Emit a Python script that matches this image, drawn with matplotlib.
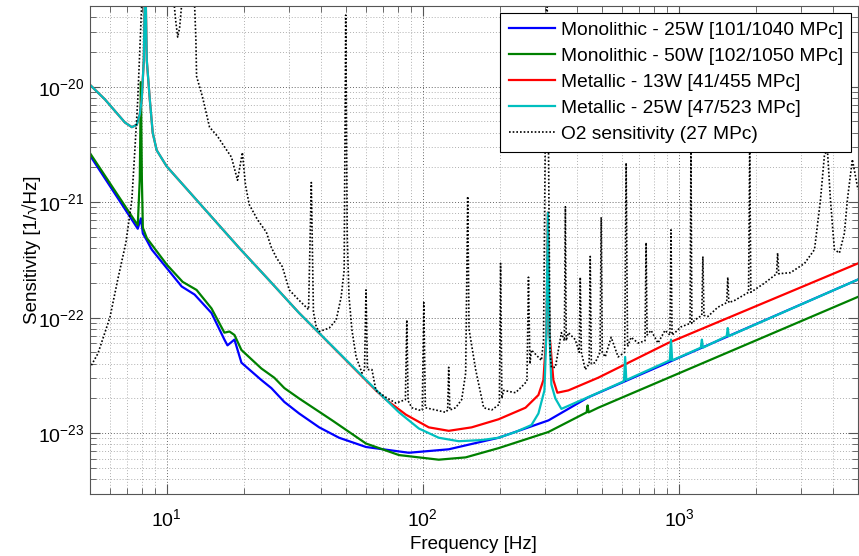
import matplotlib
matplotlib.use('Agg')
import matplotlib.pyplot as plt
import numpy as np

plt.rcParams['font.family'] = ['Liberation Sans', 'DejaVu Sans']
plt.rcParams['mathtext.fontset'] = 'custom'
plt.rcParams['mathtext.rm'] = 'Liberation Sans'
plt.rcParams['mathtext.it'] = 'Liberation Sans:italic'
plt.rcParams['mathtext.bf'] = 'Liberation Sans:bold'
plt.rcParams['axes.unicode_minus'] = False

# values: frequency in Hz, sensitivity as log10(1/sqrt(Hz))
blue_freq = [5.0, 7.71, 7.93, 8.07, 8.36, 8.74, 10.0, 11.44, 12.85, 14.96, 16.8, 17.27,
             18.39, 19.58, 23.42, 25.62, 28.8, 32.9, 39.4, 47.1, 60.0, 88.2, 126.2,
             197.6, 309.3, 442.4, 5000]
blue_exp = [-20.59, -21.23, -21.14, -21.27, -21.33, -21.41, -21.57, -21.73, -21.80, -21.96,
            -22.19, -22.24, -22.19, -22.39, -22.54, -22.61, -22.73, -22.83, -22.95, -23.04,
            -23.12, -23.17, -23.14, -23.04, -22.89, -22.69, -21.67]

green_freq = [5.0, 7.71, 7.85, 7.93, 8.0, 8.07, 8.36, 10.0, 11.54, 13.08, 14.96, 16.8,
              17.58, 18.39, 19.58, 23.42, 26.3, 28.8, 32.9, 44.3, 60.0, 80.7, 115.4,
              147.0, 197.6, 309.3, 436, 440, 444, 484, 5000]
green_exp = [-20.57, -21.20, -20.8, -19.96, -20.8, -21.22, -21.31, -21.54, -21.69, -21.76,
             -21.92, -22.13, -22.12, -22.15, -22.28, -22.44, -22.52, -22.61, -22.70, -22.89,
             -23.09, -23.19, -23.23, -23.21, -23.13, -22.99, -22.82, -22.76, -22.82, -22.78,
             -21.82]

red_freq = [5.0, 5.74, 6.87, 7.31, 7.64, 7.85, 7.99, 8.14, 8.25, 8.36, 8.59, 8.82, 9.14,
            10.0, 19.26, 24.5, 32.9, 65.6, 71.8, 85.9, 105.5, 126.2, 155.1, 197.6, 251.7,
            282.7, 295.7, 303.8, 307.9, 312.1, 323.3, 335.2, 370, 484, 906, 5000]
red_exp = [-19.98, -20.11, -20.31, -20.35, -20.33, -20.24, -20.11, -19.77, -19.0, -19.77,
           -20.11, -20.40, -20.55, -20.69, -21.40, -21.65, -21.96, -22.63, -22.71, -22.84,
           -22.95, -22.98, -22.95, -22.88, -22.78, -22.67, -22.54, -22.13, -21.09, -22.13,
           -22.54, -22.65, -22.63, -22.52, -22.22, -21.53]

cyan_freq = [5.0, 5.74, 6.87, 7.31, 7.64, 7.85, 7.99, 8.14, 8.25, 8.36, 8.59, 8.82, 9.14,
             10.0, 19.26, 24.5, 32.9, 67.4, 80.7, 96.5, 115.4, 138.1, 169.7, 197.6, 230.1,
             265.5, 282.7, 298.4, 303.8, 307.9, 312.1, 317.7, 329.3, 347.5, 484,
             610, 616.5, 623, 921, 931, 941, 1217, 1229, 1241, 1536, 1551, 1566, 5000]
cyan_exp = [-19.98, -20.11, -20.31, -20.35, -20.33, -20.24, -20.11, -19.77, -19.0, -19.77,
            -20.11, -20.40, -20.55, -20.69, -21.40, -21.65, -21.96, -22.65, -22.82, -22.96,
            -23.04, -23.07, -23.06, -23.04, -22.99, -22.93, -22.83, -22.63, -22.13, -21.09,
            -22.13, -22.58, -22.70, -22.79, -22.65,
            -22.55, -22.34, -22.54, -22.37, -22.19, -22.37, -22.26, -22.19, -22.26,
            -22.16, -22.09, -22.16, -21.67]

o2_freq = [5.0, 5.39, 6.0, 6.44, 6.93, 7.31, 7.51, 7.71, 7.85, 7.99, 9.0, 10.3,
           10.74, 10.83, 11.04, 11.23, 11.44, 12.0, 12.85, 13.0, 13.08, 13.44, 13.8,
           14.7, 15.8, 16.8, 17.9, 18.9, 19.75, 20.3, 21.0, 22.6, 24.5, 25.6, 26.8, 28.3, 30.1, 32.9,
           35.8, 36.7, 37.4, 38.35, 39.4, 43.1, 45.9, 48.0, 49.3, 50.0, 50.7, 51.5, 52.9, 54.9,
           57.9, 59.2, 60.0, 60.8, 63.3, 65.6,
           71.8, 78.5, 85.5, 86.6, 87.6, 90.6, 96.5, 99.5, 100.9, 102.3, 112.4, 122.9,
           125.0, 126.2, 127.5, 134.4, 141.8, 147.0, 149.7, 151.5, 153.8, 160.8, 172.8, 185.6,
           199.0, 201.2, 203.5, 206.7, 230.1, 242.7, 255.0, 258.5, 262.0, 265.5, 290.4,
           296.0, 301.0, 305.0, 309.0, 314.0, 317.7, 329.3, 347.5,
           357, 360.2, 363, 370, 393.7, 408, 411.8, 416, 430.6, 446, 450.4, 455, 471.1,
           492, 497.1, 502, 515.3, 543.7, 578.9, 614, 622, 630, 650.6, 692.7, 737, 744.2,
           751, 778.3, 828.5, 882.1, 922, 930.9, 940, 965,
           1018, 1105, 1114, 1123, 1154, 1228, 1240, 1252, 1297, 1418, 1536, 1551, 1566,
           1652, 1870, 1889, 1908, 2161, 2405, 2428, 2452, 2728, 3093, 3383, 3569, 3700,
           3800, 3904, 4046, 4232, 4425, 4546, 4754, 5000]
o2_exp = [-22.44, -22.31, -22.00, -21.67, -21.35, -20.98, -20.55, -20.11, -19.68, -19.25, -18.5, -18.8,
          -19.33, -19.42, -19.57, -19.49, -19.29, -18.9, -19.29, -19.59, -19.91, -20.00, -20.09,
          -20.35, -20.43, -20.52, -20.61, -20.81, -20.57, -20.85, -21.02, -21.15, -21.26, -21.39,
          -21.48, -21.56, -21.76, -21.85,
          -21.93, -20.83, -21.95, -22.08, -22.12, -22.09, -22.02, -21.82, -21.59, -19.38, -21.3,
          -21.82, -22.11, -22.34, -22.48, -22.45, -21.76, -22.45, -22.45, -22.63,
          -22.69, -22.74, -22.71, -22.02, -22.72, -22.78, -22.80, -22.80, -21.87, -22.78, -22.80,
          -22.82, -22.80, -22.43, -22.80, -22.78, -22.71, -22.48, -20.95, -22.10, -22.19, -22.45,
          -22.78, -22.80,
          -22.75, -21.53, -22.70, -22.63, -22.65, -22.60, -22.55, -21.65, -22.40, -22.28, -22.37,
          -22.20, -20.30, -19.00, -20.30, -22.30, -22.43, -22.43, -22.13,
          -22.2, -21.04, -22.2, -22.13, -22.19, -22.3, -21.65, -22.3, -22.45, -22.4, -21.47, -22.4,
          -22.39, -22.3, -21.13, -22.3, -22.34, -22.17, -22.34, -22.3, -20.66, -22.25, -22.17,
          -22.22, -22.2, -21.35, -22.15, -22.11, -22.22, -22.11, -22.15, -21.24, -22.15, -22.13,
          -22.08, -22.05, -20.5, -22.05, -22.02, -21.98, -21.47, -21.98, -21.99, -21.91, -21.87,
          -21.65, -21.87, -21.85, -21.78, -20.5, -21.78, -21.70, -21.62, -21.44, -21.62, -21.61,
          -21.53, -21.41, -20.98, -20.59, -20.55, -20.98, -21.41, -21.44, -21.27, -20.98, -20.63,
          -20.89]

labels = ['Monolithic - 25W [101/1040 MPc]',
          'Monolithic - 50W [102/1050 MPc]',
          'Metallic - 13W [41/455 MPc]',
          'Metallic - 25W [47/523 MPc]',
          'O2 sensitivity (27 MPc)']

fig = plt.figure(figsize=(8.59, 5.56), dpi=100)
ax = fig.add_axes([0.1043, 0.1124, 0.8945, 0.8768])

lw = 1.6
ax.loglog(blue_freq, 10 ** np.array(blue_exp), color='#0000ff', lw=lw, label=labels[0])
ax.loglog(green_freq, 10 ** np.array(green_exp), color='#008000', lw=lw, label=labels[1])
ax.loglog(red_freq, 10 ** np.array(red_exp), color='#ff0000', lw=lw, label=labels[2])
ax.loglog(cyan_freq, 10 ** np.array(cyan_exp), color='#00bfbf', lw=lw, label=labels[3])
ax.loglog(o2_freq, 10 ** np.array(o2_exp), color='black', lw=1.2,
          linestyle=(0, (1, 1.2)), label=labels[4])

ax.set_xlim(5, 5000)
ax.set_ylim(3e-24, 5e-20)
ax.set_xticks([10, 100, 1000])
ax.set_yticks([1e-23, 1e-22, 1e-21, 1e-20])

ax.grid(True, which='major', color='#666666', linestyle=(0, (1, 2)), lw=0.7)
ax.grid(True, which='minor', color='#b0b0b0', linestyle=(0, (1, 2)), lw=0.7)

ax.tick_params(which='both', direction='in', top=True, right=True, labelsize=14,
               color='#555555')
ax.tick_params(which='major', length=7)
ax.tick_params(which='minor', length=4)
ax.tick_params(axis='x', pad=10.5)
for s in ax.spines.values():
    s.set_color('#555555')

ax.set_xlabel('Frequency [Hz]', fontsize=13.5, labelpad=4)
ax.set_ylabel('Sensitivity [1/\u221aHz]', fontsize=13.5, labelpad=-2)

leg = ax.legend(loc='upper right', fontsize=13.8, fancybox=False, edgecolor='black',
                framealpha=1, borderaxespad=0.35, handlelength=2.4, handletextpad=0.3,
                labelspacing=0.45, borderpad=0.45)
leg.get_frame().set_linewidth(0.8)

fig.savefig('out.png', dpi=100)
